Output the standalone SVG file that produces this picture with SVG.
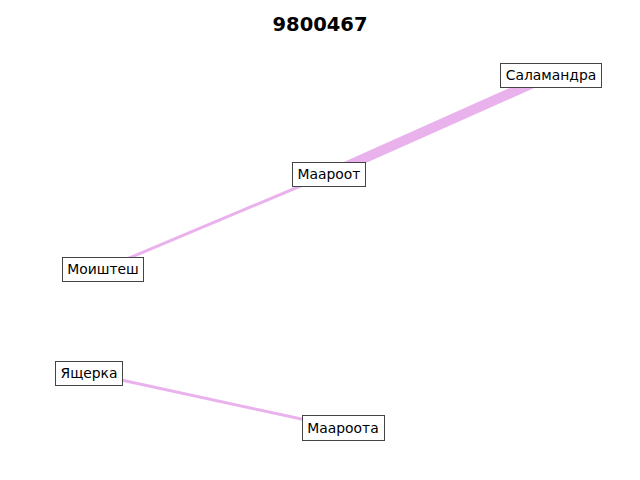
<svg xmlns="http://www.w3.org/2000/svg" width="640" height="480" viewBox="0 0 640 480">
<style>
.e{stroke:#eab2ec;fill:none;stroke-linecap:butt}
.n rect{fill:#fff;stroke:#444;stroke-width:1}
.n text{font-family:"DejaVu Sans",sans-serif;font-size:13.9px;fill:#000;text-anchor:middle;dominant-baseline:central}
.t{font-family:"DejaVu Sans",sans-serif;font-size:19.5px;font-weight:bold;text-anchor:middle}
</style>
<rect width="640" height="480" fill="#fff"/>
<text class="t" x="320" y="31">9800467</text>
<g id="edges">
<line class="e" x1="551" y1="75" x2="329" y2="174" stroke-width="10"/>
<line class="e" x1="329" y1="174" x2="103" y2="269" stroke-width="3"/>
<line class="e" x1="89" y1="373" x2="343" y2="428" stroke-width="3"/>
</g>
<g id="n1" class="n"><rect x="500.5" y="63.5" width="101" height="24"/><text x="551" y="75">Саламандра</text></g>
<g id="n2" class="n"><rect x="292.5" y="162.5" width="73" height="24"/><text x="329" y="174">Маароот</text></g>
<g id="n3" class="n"><rect x="62.5" y="257.5" width="81" height="24"/><text x="103" y="269">Моиштеш</text></g>
<g id="n4" class="n"><rect x="55.5" y="361.5" width="67" height="24"/><text x="89" y="373">Ящерка</text></g>
<g id="n5" class="n"><rect x="302.5" y="415.5" width="82" height="25"/><text x="343" y="428">Маароота</text></g>
</svg>
